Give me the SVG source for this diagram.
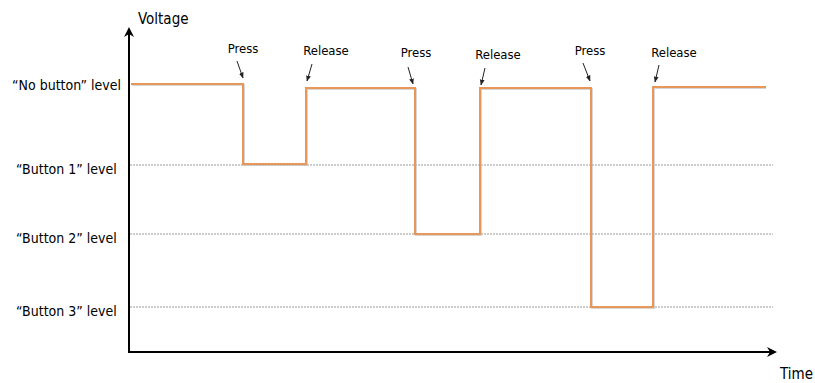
<svg xmlns="http://www.w3.org/2000/svg" width="815" height="383" viewBox="0 0 815 383">
<style>
text{font-family:"DejaVu Sans Condensed","DejaVu Sans","Liberation Sans",sans-serif;font-stretch:condensed;fill:#000}
.lvl{font-size:14px}
.ev{font-size:13px;text-anchor:middle}
.ax{font-size:15px}
.grid{stroke:#999;stroke-width:1;stroke-dasharray:2 1;fill:none}
.axis{stroke:#000;stroke-width:2;fill:none}
.wave{stroke:#E8975A;stroke-width:2;fill:none}
.shadow{stroke:#bbb;stroke-width:2;fill:none;opacity:0.6}
.pt{stroke:#222;stroke-width:1;fill:none}
</style>
<defs>
<marker id="big" viewBox="0 0 10 10" refX="8" refY="5" markerWidth="5" markerHeight="5" orient="auto" markerUnits="strokeWidth">
<path d="M0,0 L10,5 L0,10 L3,5 Z" fill="#000"/>
</marker>
<marker id="small" viewBox="0 0 10 10" refX="9" refY="5" markerWidth="6" markerHeight="6" orient="auto" markerUnits="strokeWidth">
<path d="M0,1 L10,5 L0,9 Z" fill="#222"/>
</marker>
</defs>
<g id="levels">
<line class="grid" x1="130" y1="165" x2="773" y2="165"/>
<line class="grid" x1="130" y1="234" x2="773" y2="234"/>
<line class="grid" x1="130" y1="307" x2="773" y2="307"/>
</g>
<g id="axes">
<line class="axis" x1="129" y1="353" x2="129" y2="29" marker-end="url(#big)"/>
<line class="axis" x1="128" y1="352" x2="775" y2="352" marker-end="url(#big)"/>
<text class="ax" x="138" y="24">Voltage</text>
<text class="ax" x="780" y="379">Time</text>
</g>
<g id="labels">
<text class="lvl" x="12" y="90">“No button” level</text>
<text class="lvl" x="16" y="174">“Button 1” level</text>
<text class="lvl" x="16" y="243">“Button 2” level</text>
<text class="lvl" x="16" y="316">“Button 3” level</text>
</g>
<g id="waveform">
<polyline class="shadow" points="132,85 244,85 244,165 307,165 307,89 416,89 416,235 481,235 481,89 592,89 592,308 654,308 654,88 766,88"/>
<polyline class="wave" points="131,84 243,84 243,164 306,164 306,88 415,88 415,234 480,234 480,88 591,88 591,307 653,307 653,87 766,87"/>
</g>
<g id="events">
<text class="ev" x="243" y="53">Press</text>
<text class="ev" x="326" y="55">Release</text>
<text class="ev" x="416" y="57">Press</text>
<text class="ev" x="498" y="59">Release</text>
<text class="ev" x="590" y="55">Press</text>
<text class="ev" x="674" y="57">Release</text>
</g>
<g id="connectors">
<line class="pt" x1="237" y1="61" x2="243" y2="78" marker-end="url(#small)"/>
<line class="pt" x1="312" y1="64" x2="307" y2="81" marker-end="url(#small)"/>
<line class="pt" x1="408" y1="67" x2="413" y2="84" marker-end="url(#small)"/>
<line class="pt" x1="485" y1="68" x2="481" y2="85" marker-end="url(#small)"/>
<line class="pt" x1="583" y1="63" x2="590" y2="81" marker-end="url(#small)"/>
<line class="pt" x1="659" y1="65" x2="655" y2="82" marker-end="url(#small)"/>
</g>
</svg>
